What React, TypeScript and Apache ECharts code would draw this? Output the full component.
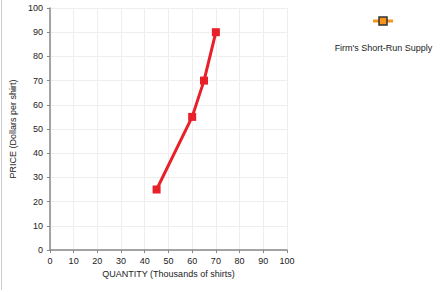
import React, { useEffect, useRef } from "react";
import * as echarts from "echarts";

const quantities = [45, 60, 65, 70];
const prices = [25, 55, 70, 90];
const seriesName = "Firm's Short-Run Supply";
const xAxisName = "QUANTITY (Thousands of shirts)";
const yAxisName = "PRICE (Dollars per shirt)";

export default function App() {
  const ref = useRef<HTMLDivElement>(null);
  useEffect(() => {
    const chart = echarts.init(ref.current!, null, { renderer: "svg" });
    const font = "Liberation Sans, Arial, sans-serif";
    chart.setOption({
      animation: false,
      textStyle: { fontFamily: font },
      grid: { left: 47, right: 156, top: 8, bottom: 42, containLabel: false },
      xAxis: {
        type: "value",
        min: 0,
        max: 100,
        interval: 10,
        name: xAxisName,
        nameLocation: "middle",
        nameGap: 18,
        nameTextStyle: { fontSize: 9, color: "#222", fontFamily: font },
        axisLine: { onZero: false, lineStyle: { color: "#888", width: 1.5 } },
        axisTick: { show: true, length: 3, lineStyle: { color: "#888" } },
        axisLabel: { fontSize: 9, color: "#222", margin: 6, fontFamily: font },
        splitLine: { show: true, lineStyle: { color: "#eeeeee" } },
      },
      yAxis: {
        type: "value",
        min: 0,
        max: 100,
        interval: 10,
        name: yAxisName,
        nameLocation: "middle",
        nameGap: 32,
        nameTextStyle: { fontSize: 9, color: "#222", fontFamily: font },
        axisLine: { show: true, lineStyle: { color: "#888", width: 1.5 } },
        axisTick: { show: true, length: 3, lineStyle: { color: "#888" } },
        axisLabel: { fontSize: 9, color: "#222", margin: 7, fontFamily: font },
        splitLine: { show: true, lineStyle: { color: "#eeeeee" } },
      },
      series: [
        {
          name: seriesName,
          type: "line",
          data: quantities.map((q, i) => [q, prices[i]]),
          symbol: "rect",
          symbolSize: 8,
          lineStyle: { color: "#e8202a", width: 3 },
          itemStyle: { color: "#e8202a" },
        },
      ],
      graphic: [
        {
          type: "line",
          shape: { x1: 1.5, y1: 0, x2: 1.5, y2: 290 },
          style: { stroke: "#cccccc", lineWidth: 1 },
        },
        {
          type: "line",
          shape: { x1: 373, y1: 21, x2: 393, y2: 21 },
          style: { stroke: "#f7941d", lineWidth: 3 },
        },
        {
          type: "rect",
          shape: { x: 379, y: 17, width: 8, height: 8 },
          style: { fill: "#f7941d", stroke: "#333", lineWidth: 1.5 },
        },
        {
          type: "text",
          x: 383.5,
          y: 48,
          style: {
            text: seriesName,
            fontSize: 9,
            fontFamily: font,
            fill: "#222",
            textAlign: "center",
            textVerticalAlign: "middle",
          },
        },
      ],
    });
    return () => chart.dispose();
  }, []);
  return <div ref={ref} style={{ width: 443, height: 292, position: "absolute", left: 0, top: 0 }} />;
}
